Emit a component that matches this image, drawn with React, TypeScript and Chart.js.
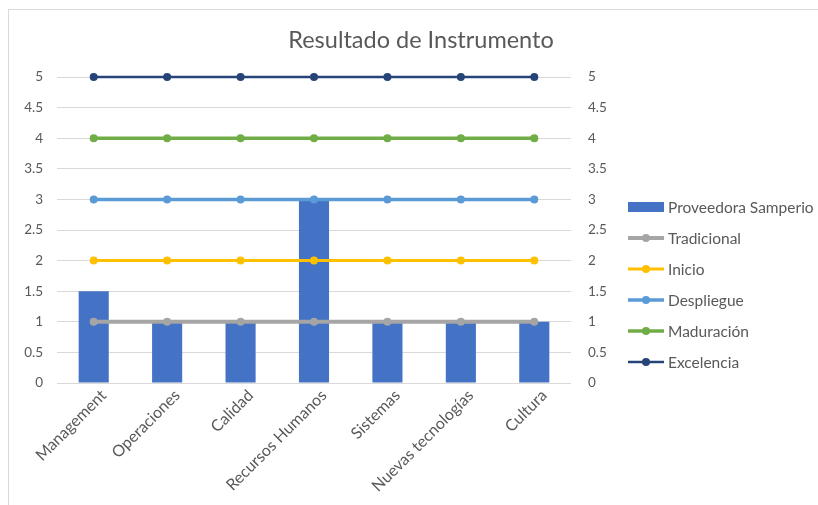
import React, { useEffect, useRef } from "react";
import { Chart, registerables } from "chart.js";

Chart.register(...registerables);

const categories = ["Management", "Operaciones", "Calidad", "Recursos Humanos", "Sistemas", "Nuevas tecnologías", "Cultura"];
const proveedora = [1.5, 1, 1, 3, 1, 1, 1];
const tradicional = [1, 1, 1, 1, 1, 1, 1];
const inicio = [2, 2, 2, 2, 2, 2, 2];
const despliegue = [3, 3, 3, 3, 3, 3, 3];
const maduracion = [4, 4, 4, 4, 4, 4, 4];
const excelencia = [5, 5, 5, 5, 5, 5, 5];
const titleText = "Resultado de Instrumento";

const FONT = "Lato, 'Open Sans', sans-serif";
const TEXT = "#595959";

const overlayPlugin = {
  id: "overlay",
  afterDraw(chart: any) {
    const ctx = chart.ctx;
    ctx.save();
    ctx.fillStyle = TEXT;
    ctx.font = `23.5px ${FONT}`;
    ctx.textAlign = "center";
    ctx.textBaseline = "middle";
    ctx.fillText(titleText, 421, 40);

    const startY = 207;
    const step = 31;
    const x0 = 628;
    const x1 = 664;
    ctx.font = `15.5px ${FONT}`;
    ctx.textAlign = "left";
    chart.data.datasets.forEach((ds: any, i: number) => {
      const y = startY + i * step;
      if (ds.type === "bar") {
        ctx.fillStyle = ds.backgroundColor;
        ctx.fillRect(x0, y - 5, x1 - x0, 10);
      } else {
        ctx.strokeStyle = ds.borderColor;
        ctx.lineWidth = ds.borderWidth;
        ctx.beginPath();
        ctx.moveTo(x0, y);
        ctx.lineTo(x1, y);
        ctx.stroke();
        ctx.fillStyle = ds.borderColor;
        ctx.beginPath();
        ctx.arc((x0 + x1) / 2, y, 4, 0, Math.PI * 2);
        ctx.fill();
      }
      ctx.fillStyle = TEXT;
      ctx.fillText(ds.label, 668, y + 1);
    });
    ctx.restore();
  },
};

function lineDs(label: string, data: number[], color: string, width: number) {
  return {
    type: "line" as const,
    label,
    data,
    borderColor: color,
    backgroundColor: color,
    borderWidth: width,
    pointRadius: 4,
    pointBackgroundColor: color,
    pointBorderWidth: 0,
    yAxisID: "y",
    order: 0,
    clip: false,
  };
}

const fmt = (v: any) => String(Number(v));

export default function App() {
  const ref = useRef<HTMLCanvasElement | null>(null);
  useEffect(() => {
    if (!ref.current) return;
    const tickFont = { family: FONT, size: 13.5 };
    const chart = new Chart(ref.current, {
      type: "bar",
      data: {
        labels: categories,
        datasets: [
          {
            type: "bar",
            label: "Proveedora Samperio",
            data: proveedora,
            backgroundColor: "#4472C4",
            barPercentage: 0.41,
            categoryPercentage: 1,
            yAxisID: "y",
            order: 10,
          } as any,
          lineDs("Tradicional", tradicional, "#A5A5A5", 4),
          lineDs("Inicio", inicio, "#FFC000", 3),
          lineDs("Despliegue", despliegue, "#5B9BD5", 3.5),
          lineDs("Maduración", maduracion, "#70AD47", 3.5),
          lineDs("Excelencia", excelencia, "#264478", 2.5),
        ],
      },
      options: {
        responsive: false,
        animation: false,
        layout: { padding: { top: 77, left: 8, right: 193, bottom: 0 } },
        plugins: { legend: { display: false }, title: { display: false }, tooltip: { enabled: false } },
        scales: {
          x: {
            grid: { display: false },
            border: { display: false },
            ticks: { font: { family: FONT, size: 16 }, color: TEXT, maxRotation: 45, minRotation: 45, padding: -5, labelOffset: 10 },
            afterFit(scale: any) { scale.height = 122; },
          },
          y: {
            position: "left",
            min: 0,
            max: 5,
            ticks: { stepSize: 0.5, font: tickFont, color: TEXT, padding: 14, callback: fmt },
            grid: { color: "#D9D9D9", drawTicks: false, lineWidth: 1 },
            border: { display: false },
            afterFit(scale: any) { scale.width = 49; },
          },
          y1: {
            position: "right",
            min: 0,
            max: 5,
            ticks: { stepSize: 0.5, font: tickFont, color: TEXT, padding: 17, callback: fmt },
            grid: { display: false, drawTicks: false },
            border: { display: false },
            afterFit(scale: any) { scale.width = 54; },
          },
        },
      },
      plugins: [overlayPlugin],
    } as any);
    return () => chart.destroy();
  }, []);

  return (
    <div style={{ position: "fixed", left: 0, top: 0, width: 818, height: 505, background: "#fff" }}>
      <div
        style={{
          position: "absolute",
          left: 8,
          top: 9,
          right: 0,
          bottom: 0,
          borderTop: "1px solid #D9D9D9",
          borderLeft: "1px solid #D9D9D9",
        }}
      />
      <canvas ref={ref} width={818} height={505} style={{ position: "absolute", left: 0, top: 0 }} />
    </div>
  );
}
